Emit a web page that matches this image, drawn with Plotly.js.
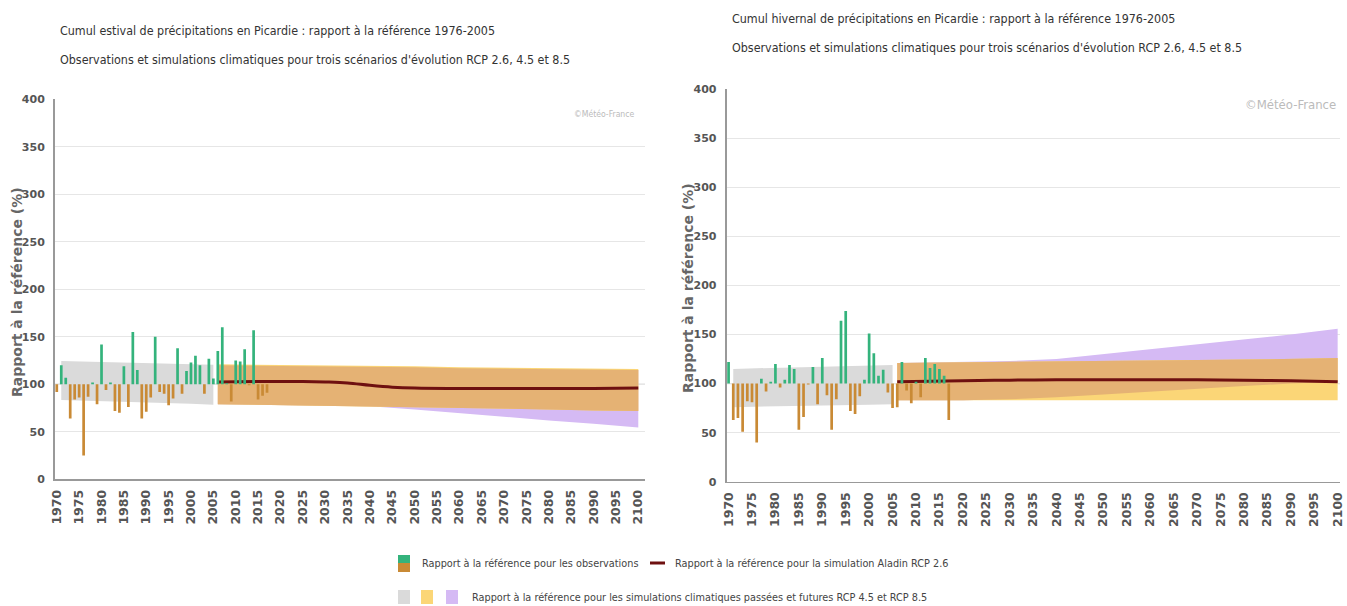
<!DOCTYPE html>
<html>
<head>
<meta charset="utf-8">
<script src="https://cdn.plot.ly/plotly-3.0.1.min.js"></script>
<style>
  html, body { margin: 0; padding: 0; background: #fff; }
  #chart { width: 1347px; height: 606px; }
</style>
</head>
<body>
<div id="chart"></div>
<script>
// ---------------- DATA ----------------
const obsYears = [1970,1971,1972,1973,1974,1975,1976,1977,1978,1979,
                  1980,1981,1982,1983,1984,1985,1986,1987,1988,1989,
                  1990,1991,1992,1993,1994,1995,1996,1997,1998,1999,
                  2000,2001,2002,2003,2004,2005,2006,2007,2008,2009,
                  2010,2011,2012,2013,2014,2015,2016,2017];

// Summer (estival) observed ratio to reference (%)
const summerObs = [92,120,107,64,84,86,25,87,102,79,
                   142,94,102,72,70,119,76,155,115,64,
                   71,86,150,92,90,78,85,138,90,114,
                   123,130,120,90,127,106,135,160,101,82,
                   125,124,137,99,157,84,88,91];

// Winter (hivernal) observed ratio to reference (%)
const winterObs = [122,63,65,51,82,81,40,105,92,102,
                   120,96,104,119,115,53,66,99,117,79,
                   126,88,53,84,164,174,72,69,87,104,
                   151,131,108,114,91,75,76,122,93,80,
                   102,86,126,116,120,115,108,63];

// Past climate simulations envelope (grey)
const pastYears = [1971, 1980, 1990, 2000, 2005];
const summerPastLow  = [83.5, 82.5, 81, 79.5, 78.5];
const summerPastHigh = [124.5, 123.5, 122.5, 121, 120.5];
const winterPastLow  = [76, 77, 77.5, 78.5, 79];
const winterPastHigh = [115, 116, 117, 118.5, 119];

// Future envelopes RCP 4.5 (yellow) and RCP 8.5 (purple)
const futYears = [2006, 2020, 2030, 2040, 2050, 2060, 2070, 2080, 2090, 2100];
const summer45High = [121, 120.5, 120, 119.5, 119, 118, 117.5, 117, 116.5, 116];
const summer45Low  = [79, 78, 77.5, 77, 76, 75, 74.5, 73.5, 72.5, 72];
const summer85High = [120, 119.5, 119, 118.5, 118, 117, 116.5, 116, 115.5, 115];
const summer85Low  = [79, 78, 77.5, 77, 73.5, 69.5, 66, 62, 58.5, 54.5];

const winter45High = [121, 121.5, 122, 122.5, 123, 123.5, 124, 124.5, 125, 126];
const winter45Low  = [83, 83, 83, 83, 83, 83, 83, 83, 83, 83];
const winter85High = [121, 122, 123, 125, 130, 135, 140, 145, 150, 156];
const winter85Low  = [83, 83, 84, 86, 89, 92, 95, 97.5, 100, 102];

// Aladin RCP 2.6 simulation
const summerAladinYears = [2006, 2015, 2020, 2025, 2030, 2035, 2040, 2045, 2050, 2060, 2070, 2080, 2090, 2100];
const summerAladin      = [102.5, 103, 103, 103, 102.5, 101.5, 99, 97, 96, 95.5, 95.5, 95.5, 95.5, 96];
const winterAladinYears = [2006, 2020, 2030, 2040, 2050, 2060, 2070, 2080, 2090, 2100];
const winterAladin      = [102, 103, 103.5, 104, 104, 104, 104, 103.5, 103, 102];

const REF = 100;

const xTickStart = 1970, xTickStep = 5;
const yTickStep = 50, yMax = 400;

const titlesLeft  = ["Cumul estival de précipitations en Picardie : rapport à la référence 1976-2005",
                     "Observations et simulations climatiques pour trois scénarios d'évolution RCP 2.6, 4.5 et 8.5"];
const titlesRight = ["Cumul hivernal de précipitations en Picardie : rapport à la référence 1976-2005",
                     "Observations et simulations climatiques pour trois scénarios d'évolution RCP 2.6, 4.5 et 8.5"];
const yTitle = "Rapport à la référence (%)";
const watermark = "©Météo-France";
const legendTexts = ["Rapport à la référence pour les observations",
                     "Rapport à la référence pour la simulation Aladin RCP 2.6",
                     "Rapport à la référence pour les simulations climatiques passées et futures RCP 4.5 et RCP 8.5"];

// ---------------- STYLE ----------------
const W = 1347, H = 606;
const px = v => v / W;
const py = v => 1 - v / H;
const C = {
  green: '#34b37c', orange: '#c98a35', grey: '#dadada', yellow: '#fbd677',
  purple: '#d5baf4', overlap: '#e5b274', aladin: '#6e1010', ref: 'rgba(140,140,140,0.7)'
};
const NARROW = '"Liberation Sans Narrow", "DejaVu Sans Condensed", Arial, sans-serif';
const BOLD = '"DejaVu Sans", Arial, sans-serif';

// ---------------- TRACES ----------------
function bandTraces(xs, lo, hi, color, xa, ya) {
  return [
    {x: xs, y: lo, type: 'scatter', mode: 'lines', line: {width: 0, color: color}, xaxis: xa, yaxis: ya, hoverinfo: 'skip', showlegend: false},
    {x: xs, y: hi, type: 'scatter', mode: 'lines', line: {width: 0, color: color}, fill: 'tonexty', fillcolor: color, xaxis: xa, yaxis: ya, hoverinfo: 'skip', showlegend: false}
  ];
}
function barTraces(years, vals, xa, ya) {
  const pos = {x: [], y: []}, neg = {x: [], y: []};
  years.forEach((yr, i) => {
    const t = vals[i] >= REF ? pos : neg;
    t.x.push(yr, yr, null);
    t.y.push(REF, vals[i], null);
  });
  return [
    {x: pos.x, y: pos.y, type: 'scatter', mode: 'lines', line: {width: 2.7, color: C.green}, xaxis: xa, yaxis: ya, hoverinfo: 'skip', showlegend: false, connectgaps: false},
    {x: neg.x, y: neg.y, type: 'scatter', mode: 'lines', line: {width: 2.7, color: C.orange}, xaxis: xa, yaxis: ya, hoverinfo: 'skip', showlegend: false, connectgaps: false}
  ];
}
function chartTraces(obs, pLo, pHi, lo45, hi45, lo85, hi85, alYears, al, xa, ya) {
  const ovLo = lo45.map((v, i) => Math.max(v, lo85[i]));
  const ovHi = hi45.map((v, i) => Math.min(v, hi85[i]));
  return [
    ...bandTraces(pastYears, pLo, pHi, C.grey, xa, ya),
    ...bandTraces(futYears, lo85, hi85, C.purple, xa, ya),
    ...bandTraces(futYears, lo45, hi45, C.yellow, xa, ya),
    ...bandTraces(futYears, ovLo, ovHi, C.overlap, xa, ya),
    {x: alYears, y: al, type: 'scatter', mode: 'lines', line: {width: 3, color: C.aladin, shape: 'spline'}, xaxis: xa, yaxis: ya, hoverinfo: 'skip', showlegend: false},
    ...barTraces(obsYears, obs, xa, ya)
  ];
}

const traces = [
  ...chartTraces(summerObs, summerPastLow, summerPastHigh, summer45Low, summer45High, summer85Low, summer85High, summerAladinYears, summerAladin, 'x', 'y'),
  ...chartTraces(winterObs, winterPastLow, winterPastHigh, winter45Low, winter45High, winter85Low, winter85High, winterAladinYears, winterAladin, 'x2', 'y2')
];

// ---------------- LAYOUT ----------------
function xAxis(domain, range, anchor) {
  return {
    domain: domain, range: range, anchor: anchor,
    tickmode: 'linear', tick0: xTickStart, dtick: xTickStep, tickangle: -90,
    showgrid: false, zeroline: false, showline: true, linecolor: '#999', linewidth: 1.5,
    ticks: '', ticklabelstandoff: 4,
    tickfont: {family: BOLD, size: 12.5, color: '#555', weight: 'bold'}
  };
}
function yAxis(domain, anchor) {
  return {
    domain: domain, range: [0, yMax], anchor: anchor,
    tickmode: 'linear', tick0: 0, dtick: yTickStep,
    showgrid: true, gridcolor: '#e6e6e6', gridwidth: 1, zeroline: false,
    showline: true, linecolor: '#999', linewidth: 2,
    ticks: '', ticklabelstandoff: 6,
    tickfont: {family: BOLD, size: 11, color: '#555', weight: 'bold'}
  };
}

const annFont = {family: NARROW, size: 12.4, color: '#333'};
const legFont = {family: NARROW, size: 10.8, color: '#444'};
const yTitleFont = {family: BOLD, size: 14, color: '#666', weight: 'bold'};
const annotations = [
  {text: titlesLeft[0],  x: px(58),  y: py(30), xanchor: 'left', yanchor: 'middle', font: annFont},
  {text: titlesLeft[1],  x: px(58),  y: py(60), xanchor: 'left', yanchor: 'middle', font: annFont},
  {text: titlesRight[0], x: px(730), y: py(18), xanchor: 'left', yanchor: 'middle', font: annFont},
  {text: titlesRight[1], x: px(730), y: py(47), xanchor: 'left', yanchor: 'middle', font: annFont},
  {text: yTitle, textangle: -90, x: px(17),  y: py(292), xanchor: 'center', yanchor: 'middle', font: yTitleFont},
  {text: yTitle, textangle: -90, x: px(688), y: py(288), xanchor: 'center', yanchor: 'middle', font: yTitleFont},
  {text: watermark, x: px(637),  y: py(114), xanchor: 'right', yanchor: 'middle', font: {family: NARROW, size: 8.6, color: '#bbb'}},
  {text: watermark, x: px(1338), y: py(105), xanchor: 'right', yanchor: 'middle', font: {family: NARROW, size: 13, color: '#bbb'}},
  {text: legendTexts[0], x: px(420), y: py(563), xanchor: 'left', yanchor: 'middle', font: legFont},
  {text: legendTexts[1], x: px(673), y: py(563), xanchor: 'left', yanchor: 'middle', font: legFont},
  {text: legendTexts[2], x: px(470), y: py(597), xanchor: 'left', yanchor: 'middle', font: legFont}
].map(a => Object.assign({xref: 'paper', yref: 'paper', showarrow: false}, a));

const rect = (x0, y0, x1, y1, color) => ({type: 'rect', xref: 'paper', yref: 'paper',
  x0: px(x0), x1: px(x1), y0: py(y1), y1: py(y0), fillcolor: color, line: {width: 0}});

const shapes = [
  {type: 'line', xref: 'x domain', yref: 'y', x0: 0, x1: 1, y0: REF, y1: REF, line: {color: C.ref, width: 1}, layer: 'below'},
  {type: 'line', xref: 'x2 domain', yref: 'y2', x0: 0, x1: 1, y0: REF, y1: REF, line: {color: C.ref, width: 1}, layer: 'below'},
  rect(398, 555, 410, 563, C.green),
  rect(398, 563, 410, 572, C.orange),
  {type: 'line', xref: 'paper', yref: 'paper', x0: px(650), x1: px(665), y0: py(563), y1: py(563), line: {color: C.aladin, width: 3}},
  rect(398, 590, 410, 604, C.grey),
  rect(421, 590, 433, 604, C.yellow),
  rect(446, 590, 458, 604, C.purple)
];

const layout = {
  width: W, height: H,
  margin: {l: 0, r: 0, t: 0, b: 0},
  paper_bgcolor: '#fff', plot_bgcolor: '#fff',
  showlegend: false,
  xaxis:  xAxis([px(55), px(645)], [1969.6, 2101.5], 'y'),
  yaxis:  yAxis([py(479.3), py(99.3)], 'x'),
  xaxis2: xAxis([px(726.7), px(1340)], [1969.6, 2100.5], 'y2'),
  yaxis2: yAxis([py(481.7), py(89.3)], 'x2'),
  annotations: annotations,
  shapes: shapes
};

Plotly.newPlot('chart', traces, layout, {displayModeBar: false, staticPlot: true});
</script>
</body>
</html>
